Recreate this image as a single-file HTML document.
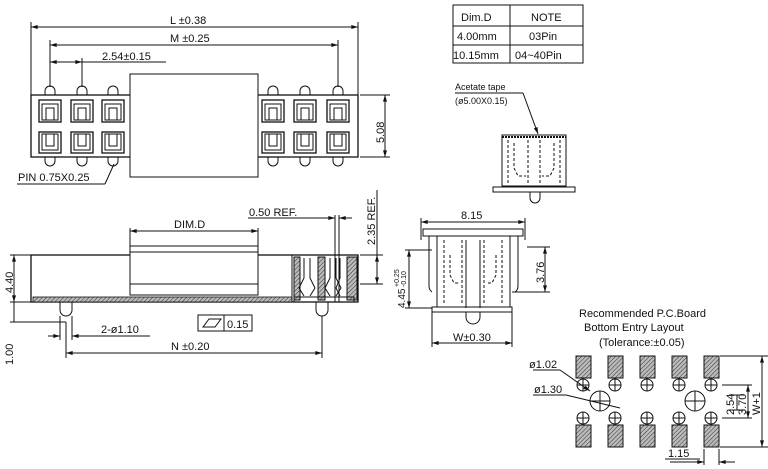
<!DOCTYPE html>
<html><head><meta charset="utf-8"><style>
html,body{margin:0;padding:0;background:#fff;}
svg{display:block;}
text{font-family:"Liberation Sans",sans-serif;fill:#111;}
</style></head><body>
<svg width="768" height="469" viewBox="0 0 768 469" xmlns="http://www.w3.org/2000/svg">
<defs>
<marker id="a" viewBox="0 0 10 6" refX="10" refY="3" markerWidth="7" markerHeight="4" orient="auto-start-reverse"><path d="M0,0L10,3L0,6z" fill="#111"/></marker>
<pattern id="h" width="3" height="3" patternUnits="userSpaceOnUse" patternTransform="rotate(45)"><rect width="3" height="3" fill="#bbb"/><line x1="0" y1="0" x2="0" y2="3" stroke="#333" stroke-width="1"/></pattern>
</defs>
<g stroke="#111" fill="none" stroke-width="1">
<!-- TOP VIEW -->
<line x1="31" y1="22" x2="31" y2="95"/><line x1="358" y1="22" x2="358" y2="95"/>
<line x1="31" y1="27" x2="358" y2="27" marker-start="url(#a)" marker-end="url(#a)"/>
<line x1="50" y1="40" x2="50" y2="87"/><line x1="338" y1="40" x2="338" y2="87"/>
<line x1="50" y1="45" x2="338" y2="45" marker-start="url(#a)" marker-end="url(#a)"/>
<line x1="82" y1="58" x2="82" y2="87"/>
<line x1="50" y1="62" x2="82" y2="62" marker-start="url(#a)" marker-end="url(#a)"/>
<line x1="82" y1="62" x2="166" y2="62"/>
<rect x="31" y="95" width="327" height="62" stroke-width="1.3"/>
<rect x="130" y="74" width="128" height="103" fill="#fff"/>
<line x1="360" y1="95" x2="390" y2="95"/><line x1="360" y1="157" x2="390" y2="157"/>
<line x1="385" y1="95" x2="385" y2="157" marker-start="url(#a)" marker-end="url(#a)"/>
<line x1="17" y1="184" x2="105" y2="184"/><line x1="105" y1="184" x2="114" y2="164"/>
<g id="pinset">
<path d="M45,95 V91 a5,5 0 0 1 10,0 V95"/>
<path d="M45,157 V161 a5,5 0 0 0 10,0 V157"/>
<rect x="39" y="100" width="22" height="22" stroke-width="1.3"/>
<rect x="42" y="104" width="16" height="16"/>
<path d="M46,120 V108 h8 v12"/>
<rect x="39" y="132" width="22" height="21" stroke-width="1.3"/>
<rect x="42" y="134" width="16" height="16"/>
<path d="M46,134 V146 h8 v-12"/>
</g>
<use href="#pinset" x="32"/><use href="#pinset" x="63"/>
<use href="#pinset" x="223"/><use href="#pinset" x="255"/><use href="#pinset" x="288"/>

<!-- SIDE VIEW -->
<rect x="31" y="255" width="327" height="47" stroke-width="1.3"/>
<rect x="130" y="246" width="128" height="49" fill="#fff"/>
<line x1="130" y1="252" x2="258" y2="252"/><line x1="130" y1="284" x2="258" y2="284"/>
<line x1="130" y1="228" x2="130" y2="246"/><line x1="258" y1="228" x2="258" y2="246"/>
<line x1="130" y1="231" x2="258" y2="231" marker-start="url(#a)" marker-end="url(#a)"/>
<rect x="33" y="297" width="259" height="5" fill="url(#h)" stroke-width="0.8"/>
<path d="M60,302 v8 a6,6 0 0 0 12,0 v-8"/>
<path d="M316,302 v8 a6,6 0 0 0 12,0 v-8"/>
<line x1="292" y1="255" x2="292" y2="302"/>
<rect x="294" y="257" width="6" height="43" fill="url(#h)"/>
<rect x="318" y="257" width="7" height="43" fill="url(#h)"/>
<rect x="347" y="257" width="10" height="43" fill="url(#h)"/>
<path d="M304,258 v20 l-5,10 l5,8 M310,258 v20 l5,10 l-5,8"/>
<path d="M330,258 v20 l-5,10 l5,8 M336,258 v20 l5,10 l-5,8"/>
<path d="M340,258 v20 l-4,10 l4,8"/>
<rect x="294" y="297" width="60" height="5"/>
<line x1="335" y1="215" x2="335" y2="302"/><line x1="339" y1="215" x2="339" y2="302"/>
<line x1="248" y1="218" x2="335" y2="218" marker-end="url(#a)"/>
<line x1="352" y1="218" x2="339" y2="218" marker-end="url(#a)"/>
<line x1="360" y1="255" x2="383" y2="255"/><line x1="360" y1="284" x2="383" y2="284"/>
<line x1="377" y1="190" x2="377" y2="255"/>
<line x1="377" y1="255" x2="377" y2="284" marker-start="url(#a)" marker-end="url(#a)"/>
<line x1="10" y1="255" x2="31" y2="255"/><line x1="10" y1="302" x2="31" y2="302"/>
<line x1="10" y1="322" x2="66" y2="322"/>
<line x1="14" y1="255" x2="14" y2="302" marker-start="url(#a)" marker-end="url(#a)"/>
<line x1="14" y1="302" x2="14" y2="322"/>
<line x1="60" y1="316" x2="60" y2="340"/><line x1="72" y1="316" x2="72" y2="340"/>
<line x1="48" y1="336" x2="60" y2="336" marker-end="url(#a)"/>
<line x1="150" y1="336" x2="72" y2="336" marker-end="url(#a)"/>
<line x1="66" y1="322" x2="66" y2="358"/><line x1="322" y1="316" x2="322" y2="358"/>
<line x1="66" y1="353" x2="322" y2="353" marker-start="url(#a)" marker-end="url(#a)"/>
<rect x="198" y="315" width="54" height="16"/><line x1="224" y1="315" x2="224" y2="331"/>
<path d="M203,327 l6,-8 h12 l-6,8 z"/>

<!-- TABLE -->
<rect x="453" y="5" width="130" height="58"/>
<line x1="453" y1="26" x2="583" y2="26"/><line x1="453" y1="45" x2="583" y2="45"/>
<line x1="510" y1="5" x2="510" y2="63"/>

<!-- ACETATE VIEW -->
<line x1="455" y1="93" x2="523" y2="93"/><line x1="523" y1="93" x2="538" y2="134" marker-end="url(#a)"/>
<rect x="502" y="135" width="64" height="51"/>
<line x1="502" y1="137" x2="566" y2="137" stroke-dasharray="2,1" stroke-width="2"/>
<g stroke-dasharray="3,2">
<path d="M508,140 v45 M528,140 v45 M540,140 v45 M560,140 v45"/>
<path d="M514,143 v25 l4,8 h8 M554,143 v25 l-4,8 h-8"/>
</g>
<path d="M493,192 v-5 h82 v5 z"/>
<path d="M530,192 v6 a5,5 0 0 0 10,0 v-6"/>

<!-- END VIEW -->
<line x1="421" y1="218" x2="421" y2="240"/><line x1="525" y1="218" x2="525" y2="240"/>
<line x1="421" y1="222" x2="525" y2="222" marker-start="url(#a)" marker-end="url(#a)"/>
<path d="M423,229 h100 v7 h-100 z"/>
<path d="M429,236 v50 q0,4 3,6 M518,236 v50 q0,4 -3,6"/>
<rect x="437" y="236" width="73" height="71"/>
<g stroke-dasharray="3,2">
<path d="M444,240 v65 M462,240 v65 M484,240 v65 M502,240 v65"/>
<path d="M450,255 v20 l4,8 h6 M496,255 v20 l-4,8 h-6"/>
</g>
<path d="M466,240 v68 M480,240 v68"/>
<rect x="432" y="307" width="80" height="5"/>
<path d="M466,312 v5 a7,7 0 0 0 14,0 v-5"/>
<line x1="527" y1="247" x2="550" y2="247"/><line x1="512" y1="292" x2="550" y2="292"/>
<line x1="545" y1="247" x2="545" y2="292" marker-start="url(#a)" marker-end="url(#a)"/>
<line x1="405" y1="250" x2="432" y2="250"/><line x1="405" y1="308" x2="432" y2="308"/>
<line x1="409" y1="250" x2="409" y2="308" marker-start="url(#a)" marker-end="url(#a)"/>
<line x1="432" y1="312" x2="432" y2="347"/><line x1="512" y1="312" x2="512" y2="347"/>
<line x1="432" y1="343" x2="512" y2="343" marker-start="url(#a)" marker-end="url(#a)"/>

<!-- PCB LAYOUT -->
<g fill="url(#h)">
<rect x="576" y="356" width="15" height="22"/><rect x="608" y="356" width="15" height="22"/><rect x="640" y="356" width="15" height="22"/><rect x="672" y="356" width="15" height="22"/><rect x="704" y="356" width="15" height="22"/>
<rect x="576" y="425" width="15" height="22"/><rect x="608" y="425" width="15" height="22"/><rect x="640" y="425" width="15" height="22"/><rect x="672" y="425" width="15" height="22"/><rect x="704" y="425" width="15" height="22"/>
</g>
<g id="hc"><circle cx="583" cy="385" r="6"/><path d="M577,385h12M583,379v12"/></g>
<use href="#hc" x="32"/><use href="#hc" x="64"/><use href="#hc" x="96"/><use href="#hc" x="128"/>
<use href="#hc" y="33"/><use href="#hc" x="32" y="33"/><use href="#hc" x="64" y="33"/><use href="#hc" x="96" y="33"/><use href="#hc" x="128" y="33"/>
<circle cx="600" cy="401" r="10"/><path d="M590,401h20M600,391v20"/>
<circle cx="695" cy="401" r="10"/><path d="M685,401h20M695,391v20"/>
<line x1="533" y1="370" x2="560" y2="370"/><line x1="560" y1="370" x2="590" y2="391" marker-end="url(#a)"/>
<line x1="533" y1="395" x2="566" y2="395"/><line x1="566" y1="395" x2="620" y2="408"/>
<line x1="720" y1="356" x2="770" y2="356"/><line x1="720" y1="447" x2="770" y2="447"/>
<line x1="722" y1="385" x2="752" y2="385"/><line x1="722" y1="418" x2="752" y2="418"/>
<line x1="729" y1="395" x2="744" y2="395"/><line x1="729" y1="410" x2="744" y2="410"/>
<line x1="737" y1="395" x2="737" y2="410"/>
<line x1="748" y1="385" x2="748" y2="418" marker-start="url(#a)" marker-end="url(#a)"/>
<line x1="762" y1="356" x2="762" y2="447" marker-start="url(#a)" marker-end="url(#a)"/>
<line x1="704" y1="449" x2="704" y2="465"/><line x1="719" y1="449" x2="719" y2="465"/>
<line x1="670" y1="462" x2="704" y2="462" marker-end="url(#a)"/><line x1="735" y1="462" x2="719" y2="462" marker-end="url(#a)"/>
<line x1="665" y1="459" x2="700" y2="459"/>
</g>
<g font-size="11">
<text x="170" y="24">L ±0.38</text>
<text x="170" y="42">M ±0.25</text>
<text x="102" y="60">2.54±0.15</text>
<text x="18" y="181">PIN 0.75X0.25</text>
<text x="384" y="143" transform="rotate(-90 384 143)">5.08</text>
<text x="174" y="228">DIM.D</text>
<text x="249" y="216">0.50 REF.</text>
<text x="375" y="245" transform="rotate(-90 375 245)">2.35 REF.</text>
<text x="13" y="293" transform="rotate(-90 13 293)">4.40</text>
<text x="13" y="365" transform="rotate(-90 13 365)">1.00</text>
<text x="101" y="333">2-ø1.10</text>
<text x="171" y="350">N ±0.20</text>
<text x="227" y="328">0.15</text>
<text x="461" y="21">Dim.D</text><text x="531" y="21">NOTE</text>
<text x="457" y="40">4.00mm</text><text x="529" y="40">03Pin</text>
<text x="453" y="59">10.15mm</text><text x="515" y="59">04~40Pin</text>
<text x="461" y="219">8.15</text>
<text x="544" y="283" transform="rotate(-90 544 283)">3.76</text>
<text x="453" y="341">W±0.30</text>
<text x="579" y="317">Recommended P.C.Board</text>
<text x="584" y="331">Bottom Entry Layout</text>
<text x="599" y="346">(Tolerance:±0.05)</text>
<text x="529" y="368">ø1.02</text>
<text x="534" y="393">ø1.30</text>
<text x="734" y="415" transform="rotate(-90 734 415)">2.54</text>
<text x="746" y="415" transform="rotate(-90 746 415)">3.70</text>
<text x="760" y="415" transform="rotate(-90 760 415)">W+1</text>
<text x="668" y="457">1.15</text>
</g>
<g font-size="9">
<text x="455" y="90">Acetate tape</text>
<text x="455" y="104">(ø5.00X0.15)</text>
</g>
<g font-size="10" transform="rotate(-90 405 308)">
<text x="405" y="308">4.45</text>
<text x="426" y="302" font-size="7">+0.25</text>
<text x="426" y="309" font-size="7">-0.10</text>
</g>
</svg>
</body></html>
